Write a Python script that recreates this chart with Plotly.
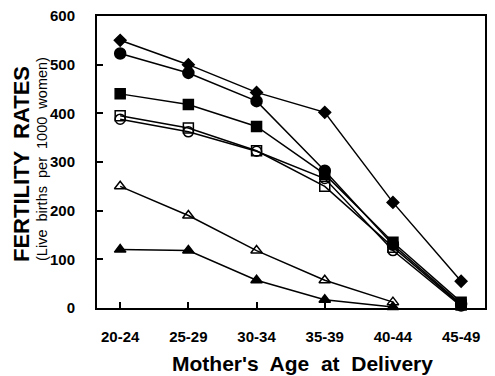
import plotly.graph_objects as go

ages = ["20-24", "25-29", "30-34", "35-39", "40-44", "45-49"]
diamond_vals = [550, 500, 443, 402, 217, 55]
circle_f_vals = [523, 483, 425, 282, 130, 8]
square_f_vals = [440, 418, 373, 275, 135, 12]
square_o_vals = [395, 370, 323, 250, 125, 6]
circle_o_vals = [388, 362, 322, 266, 118, 4]
tri_o_vals = [250, 190, 118, 57, 12]
tri_f_vals = [120, 118, 57, 17, 2]
y_ticks = [0, 100, 200, 300, 400, 500, 600]

series = [
    (square_o_vals, "square-open", 10),
    (circle_o_vals, "circle-open", 10),
    (square_f_vals, "square", 10),
    (circle_f_vals, "circle", 11),
    (diamond_vals, "diamond", 9),
    (tri_o_vals, "triangle-up-open", 10),
    (tri_f_vals, "triangle-up", 10),
]

fig = go.Figure()
for vals, sym, size in series:
    fig.add_trace(go.Scatter(
        x=list(range(len(vals))), y=vals, mode="lines+markers",
        line=dict(color="black", width=1.5),
        marker=dict(symbol=sym, size=size, color="black",
                    line=dict(color="black", width=1.5)),
        cliponaxis=False, showlegend=False))

tick_font = dict(size=15, family="Liberation Sans", weight="bold")

fig.update_layout(
    width=487, height=368,
    margin=dict(l=89, r=10, t=8, b=68),
    paper_bgcolor="white", plot_bgcolor="white",
    font=dict(family="Liberation Sans", color="black"),
    xaxis=dict(range=[-0.34, 5.35], tickvals=list(range(6)), ticktext=ages,
               ticks="inside", ticklen=6, tickcolor="black", tickwidth=1.5,
               showgrid=False, zeroline=False, showline=True, linecolor="black",
               linewidth=2, mirror=True, ticklabeloverflow="allow", automargin=False,
               tickfont=tick_font, ticklabelstandoff=14),
    yaxis=dict(range=[0, 600], tickvals=y_ticks,
               ticks="inside", ticklen=6, tickcolor="black", tickwidth=1.5,
               showgrid=False, zeroline=False, showline=True, linecolor="black",
               linewidth=2, mirror=True, ticklabeloverflow="allow", automargin=False,
               tickfont=tick_font, ticklabelstandoff=17),
    annotations=[
        dict(text="<b>FERTILITY  RATES</b>", xref="paper", yref="paper",
             x=-0.196, y=0.493, xanchor="center", yanchor="middle",
             textangle=-90, showarrow=False, borderpad=0,
             font=dict(size=22, family="Liberation Sans")),
        dict(text="(Live  births  per  1000  women)", xref="paper", yref="paper",
             x=-0.142, y=0.51, xanchor="center", yanchor="middle",
             textangle=-90, showarrow=False,
             font=dict(size=14.5, family="Liberation Sans")),
        dict(text="<b>Mother's  Age  at  Delivery</b>", xref="paper", yref="paper",
             x=0.53, y=-0.189, xanchor="center", yanchor="middle", showarrow=False,
             font=dict(size=21, family="Liberation Sans")),
    ],
)
fig.write_html("out.html")
